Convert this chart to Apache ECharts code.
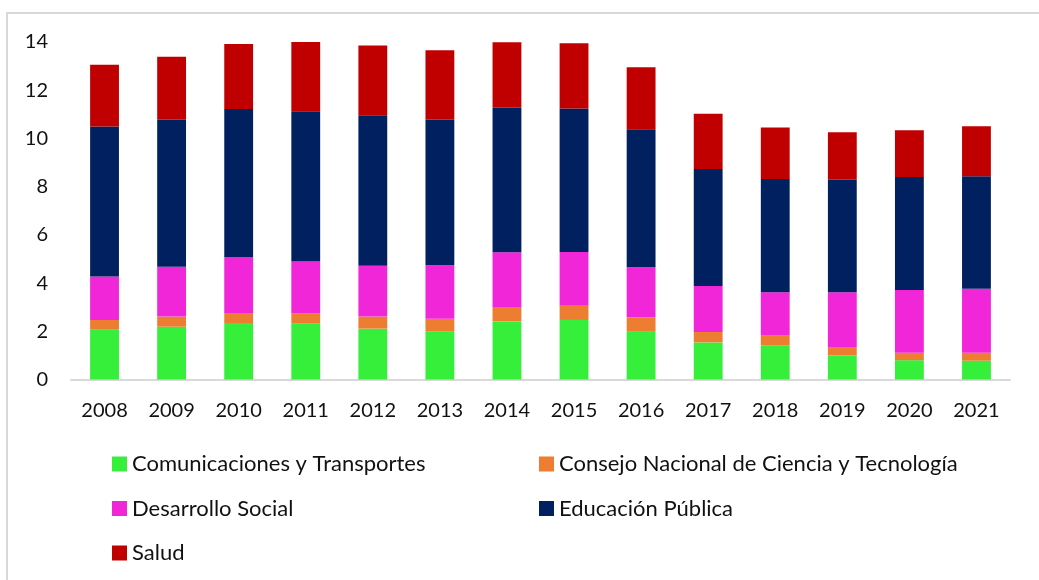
<!DOCTYPE html>
<html>
<head>
<meta charset="utf-8">
<script src="https://cdn.jsdelivr.net/npm/echarts@6/dist/echarts.min.js"></script>
<style>
  html, body { margin: 0; padding: 0; background: #fff; }
  #chart { width: 1039px; height: 580px; }
</style>
</head>
<body>
<div id="chart"></div>
<script>
// Years on the category axis
const years = ['2008', '2009', '2010', '2011', '2012', '2013', '2014', '2015', '2016', '2017', '2018', '2019', '2020', '2021'];

// Series values per year (stacked bottom to top)
const comunicaciones = [2.08, 2.19, 2.34, 2.33, 2.11, 2.00, 2.41, 2.47, 1.98, 1.54, 1.42, 1.00, 0.80, 0.78];
const conacyt        = [0.39, 0.42, 0.42, 0.42, 0.50, 0.52, 0.60, 0.59, 0.60, 0.43, 0.41, 0.35, 0.31, 0.33];
const desarrollo     = [1.80, 2.07, 2.32, 2.15, 2.11, 2.22, 2.27, 2.23, 2.08, 1.91, 1.79, 2.27, 2.60, 2.65];
const educacion      = [6.22, 6.09, 6.14, 6.23, 6.24, 6.03, 5.99, 5.95, 5.72, 4.85, 4.70, 4.67, 4.69, 4.67];
const salud          = [2.57, 2.62, 2.70, 2.89, 2.89, 2.89, 2.72, 2.71, 2.57, 2.29, 2.13, 1.97, 1.94, 2.08];

// Series names
const names = [
  'Comunicaciones y Transportes',
  'Consejo Nacional de Ciencia y Tecnología',
  'Desarrollo Social',
  'Educación Pública',
  'Salud'
];

const FONT = 'Lato';
const colors = ['#35EF3B', '#ED7D31', '#F026D8', '#002060', '#C00000'];
const seriesData = [comunicaciones, conacyt, desarrollo, educacion, salud];

const chart = echarts.init(document.getElementById('chart'), null, { renderer: 'canvas' });

const legendText = { fontFamily: FONT, fontSize: 22, color: '#111', lineHeight: 24 };

chart.setOption({
  backgroundColor: '#fff',
  animation: false,
  color: colors,
  textStyle: { fontFamily: FONT },
  graphic: [{
    type: 'rect',
    shape: { x: 7, y: 13, width: 1060, height: 600 },
    style: { fill: 'none', stroke: '#d9d9d9', lineWidth: 2 },
    silent: true
  }],
  grid: { left: 71, right: 29, top: 42, bottom: 200.5, containLabel: false },
  legend: [
    {
      orient: 'vertical',
      left: 112, top: 452, padding: 0,
      itemWidth: 15, itemHeight: 15, itemGap: 20.5,
      icon: 'rect',
      textStyle: legendText,
      data: [names[0], names[2], names[4]]
    },
    {
      orient: 'vertical',
      left: 539, top: 452, padding: 0,
      itemWidth: 15, itemHeight: 15, itemGap: 20.5,
      icon: 'rect',
      textStyle: legendText,
      data: [names[1], names[3]]
    }
  ],
  xAxis: {
    type: 'category',
    data: years,
    axisLine: { lineStyle: { color: '#d9d9d9', width: 2 } },
    axisTick: { show: false },
    axisLabel: { fontFamily: FONT, fontSize: 20, color: '#111', margin: 21 }
  },
  yAxis: {
    type: 'value',
    min: 0, max: 14, interval: 2,
    axisLine: { show: false },
    axisTick: { show: false },
    splitLine: { show: false },
    axisLabel: { fontFamily: FONT, fontSize: 20, color: '#111', margin: 23 }
  },
  series: names.map((n, i) => ({
    name: n,
    type: 'bar',
    stack: 'total',
    barWidth: '43%',
    data: seriesData[i],
    itemStyle: { color: colors[i] }
  }))
});
</script>
</body>
</html>
